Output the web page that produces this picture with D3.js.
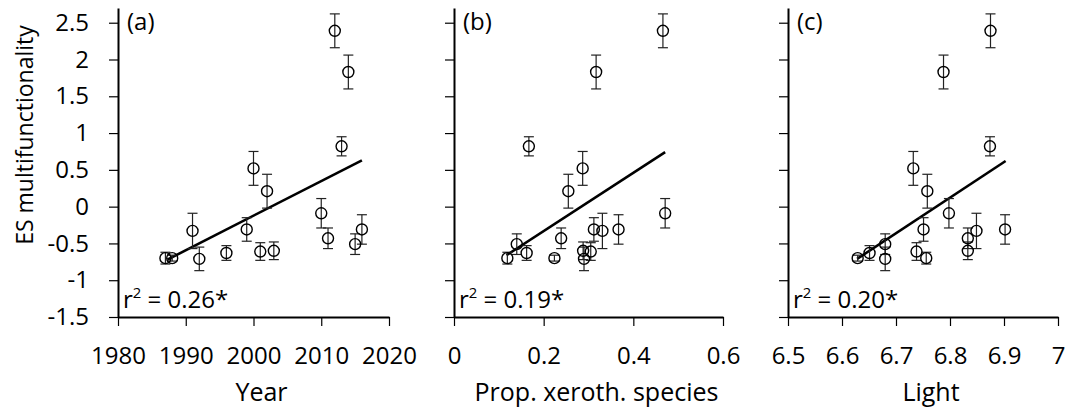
<!DOCTYPE html>
<html>
<head>
<meta charset="utf-8">
<script src="https://cdn.jsdelivr.net/npm/d3@7"></script>
<style>
  body { margin: 0; background: #fff; }
  text { font-family: "Open Sans", sans-serif; fill: #000; }
</style>
</head>
<body>
<div id="chart"></div>
<script>
// Site data (one entry per survey), shared y values
const years  = [1987, 1988, 1991, 1992, 1996, 1999, 2000, 2001, 2002, 2003, 2010, 2011, 2012, 2013, 2014, 2015, 2016];
const xeroth = [0.119, 0.224, 0.331, 0.290, 0.162, 0.312, 0.287, 0.305, 0.255, 0.288, 0.471, 0.239, 0.466, 0.167, 0.317, 0.140, 0.367];
const light  = [6.756, 6.629, 6.849, 6.680, 6.651, 6.751, 6.732, 6.738, 6.758, 6.833, 6.798, 6.833, 6.875, 6.874, 6.788, 6.680, 6.902];
const esMean = [-0.70, -0.70, -0.33, -0.71, -0.63, -0.31, 0.52, -0.61, 0.21, -0.60, -0.09, -0.43, 2.39, 0.82, 1.83, -0.51, -0.31];
const esSE   = [0.08, 0.04, 0.24, 0.16, 0.10, 0.16, 0.23, 0.12, 0.23, 0.12, 0.20, 0.14, 0.23, 0.13, 0.23, 0.14, 0.20];

// fitted lines (end points)
const fitYear   = [[1987.3, -0.72], [2016, 0.63]];
const fitXeroth = [[0.117, -0.66], [0.471, 0.74]];
const fitLight  = [[6.628, -0.71], [6.903, 0.62]];

const yTicks = [-1.5, -1, -0.5, 0, 0.5, 1, 1.5, 2, 2.5];
const yearTicks = [1980, 1990, 2000, 2010, 2020];
const xerothTicks = [0, 0.2, 0.4, 0.6];
const lightTicks = [6.5, 6.6, 6.7, 6.8, 6.9, 7];

const panels = [
    { key: "(a)", xs: years,  domain: [1980, 2020], range: [118, 389], ticks: yearTicks,   fmt: d3.format("d"), title: "Year",                  fit: fitYear,   r2: "0.26*", yLabels: true },
    { key: "(b)", xs: xeroth, domain: [0, 0.6],     range: [454, 723], ticks: xerothTicks, fmt: d => d === 0 ? "0" : d3.format(".1f")(d), title: "Prop. xeroth. species", fit: fitXeroth, r2: "0.19*" },
    { key: "(c)", xs: light,  domain: [6.5, 7],     range: [788, 1058], ticks: lightTicks, fmt: d => d === 7 ? "7" : d3.format(".1f")(d), title: "Light",               fit: fitLight,  r2: "0.20*" }
];

const W = 1083, H = 412;
const fs = 24;

const svg = d3.select("#chart").append("svg")
    .attr("width", W)
    .attr("height", H);

const y = d3.scaleLinear().domain([-1.5, 2.7]).range([317, 8]);

// y axis title
svg.append("text")
    .attr("transform", `translate(33,${135}) rotate(-90)`)
    .attr("text-anchor", "middle")
    .attr("font-size", 23)
    .text("ES multifunctionality");

panels.forEach(p => {
    const x = d3.scaleLinear().domain(p.domain).range(p.range);
    const g = svg.append("g");

    // y axis
    const yAxis = d3.axisLeft(y).tickValues(yTicks).tickSize(9).tickSizeOuter(0)
        .tickFormat(p.yLabels ? d => String(d) : "");
    const ya = g.append("g").attr("transform", `translate(${p.range[0]},0)`).call(yAxis);
    ya.select(".domain").attr("stroke-width", 2);
    ya.selectAll(".tick line").attr("stroke-width", 1.2);
    ya.selectAll("text").attr("font-size", fs).attr("x", -29)
        .attr("font-family", "Open Sans");

    // x axis
    const xAxis = d3.axisBottom(x).tickValues(p.ticks).tickSize(9).tickSizeOuter(0).tickFormat(p.fmt);
    const xa = g.append("g").attr("transform", `translate(0,${y(-1.5)})`).call(xAxis);
    xa.select(".domain").attr("stroke-width", 2);
    xa.selectAll(".tick line").attr("stroke-width", 1.2);
    xa.selectAll("text").attr("font-size", fs).attr("y", 30)
        .attr("font-family", "Open Sans");

    // x axis title
    g.append("text")
        .attr("x", (p.range[0] + p.range[1]) / 2 + 8)
        .attr("y", 401)
        .attr("text-anchor", "middle")
        .attr("font-size", 25)
        .text(p.title);

    // panel label
    g.append("text")
        .attr("x", p.range[0] + 9)
        .attr("y", 30)
        .attr("font-size", fs)
        .text(p.key);

    // r2 label
    const r = g.append("text")
        .attr("x", p.range[0] + 5)
        .attr("y", 308)
        .attr("font-size", fs);
    r.append("tspan").text("r");
    r.append("tspan").attr("font-size", fs * 0.62).attr("dy", -10).text("2");
    r.append("tspan").attr("dy", 10).text(" = " + p.r2);

    // fit line
    g.append("line")
        .attr("x1", x(p.fit[0][0])).attr("y1", y(p.fit[0][1]))
        .attr("x2", x(p.fit[1][0])).attr("y2", y(p.fit[1][1]))
        .attr("stroke", "#000")
        .attr("stroke-width", 2.6);

    const pts = p.xs.map((v, i) => ({ x: v, m: esMean[i], se: esSE[i] }));

    // error bars
    const eb = g.append("g").attr("stroke", "#222").attr("stroke-width", 1.2);
    pts.forEach(d => {
        const cx = x(d.x);
        eb.append("line").attr("x1", cx).attr("x2", cx).attr("y1", y(d.m - d.se)).attr("y2", y(d.m + d.se));
        eb.append("line").attr("x1", cx - 5).attr("x2", cx + 5).attr("y1", y(d.m - d.se)).attr("y2", y(d.m - d.se));
        eb.append("line").attr("x1", cx - 5).attr("x2", cx + 5).attr("y1", y(d.m + d.se)).attr("y2", y(d.m + d.se));
    });

    // points
    g.selectAll("circle")
        .data(pts)
        .enter()
        .append("circle")
        .attr("cx", d => x(d.x))
        .attr("cy", d => y(d.m))
        .attr("r", 5.5)
        .attr("fill", "none")
        .attr("stroke", "#000")
        .attr("stroke-width", 1.4);
});
</script>
</body>
</html>
